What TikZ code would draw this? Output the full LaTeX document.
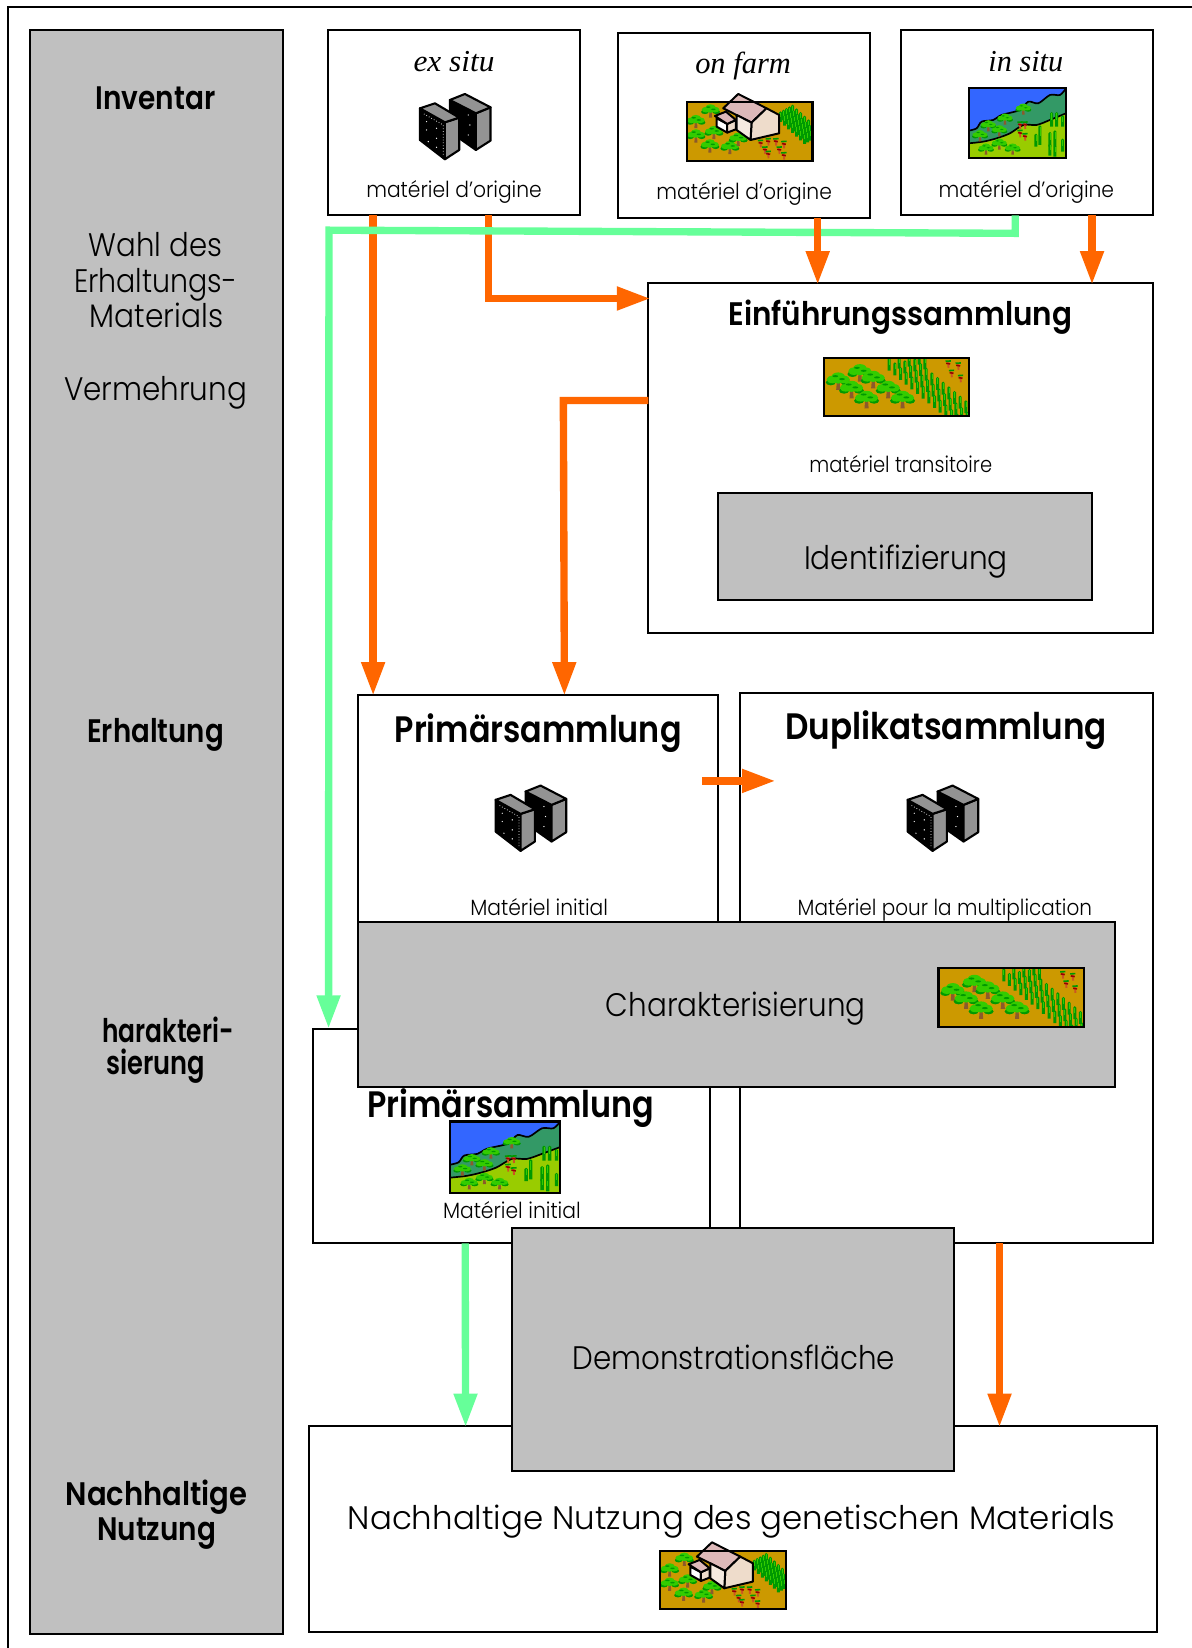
\documentclass[tikz,border=0pt]{standalone}
\usepackage{graphicx}
\usepackage{fontspec}
\setmainfont{Poppins}[UprightFont=* Light,BoldFont=* SemiBold]
\newfontfamily\timesf{Liberation Serif}
\usetikzlibrary{arrows.meta,calc}
\definecolor{gr}{HTML}{C0C0C0}
\definecolor{org}{HTML}{FF6600}
\definecolor{grn}{HTML}{66FF99}
\definecolor{gold}{HTML}{CC9900}
\definecolor{treeL}{HTML}{33CC00}
\definecolor{treeD}{HTML}{009900}
\definecolor{trunk}{HTML}{8B5A2B}
\definecolor{skyb}{HTML}{3366FF}
\definecolor{hill}{HTML}{339966}
\definecolor{meadow}{HTML}{99CC00}
\definecolor{roofc}{HTML}{DDB9B9}
\definecolor{wallc}{HTML}{EEDCCB}
\definecolor{plantc}{HTML}{CC5522}
\tikzset{
  box/.style={draw=black,line width=1.9pt,fill=white,anchor=north west,inner sep=0pt,outer sep=0pt},
  graybox/.style={box,fill=gr},
  oarrow/.style={draw=org,line width=7pt,-{Triangle[length=32pt,width=21pt]}},
  garrow/.style={draw=grn,line width=7pt,-{Triangle[length=32pt,width=21pt]}},
  lbl/.style={anchor=base,inner sep=0pt,outer sep=0pt,text=black},
  big/.style={lbl,font=\fontsize{31}{31}\selectfont},
  small/.style={lbl,font=\fontsize{21}{21}\selectfont},
  bolds/.style={lbl,font=\fontsize{31}{31}\selectfont\bfseries},
  boldb/.style={lbl,font=\fontsize{35}{35}\selectfont\bfseries},
  ital/.style={lbl,font=\fontsize{29}{29}\selectfont\timesf\itshape},
  edge/.style={draw=black,line width=1.9pt,line join=miter},
}
\newcommand\lab[6]{\node[#2] (#1) at (#3,#4) {\resizebox{#5pt}{\height}{#6}};}
% --- icon parts, drawn in the units of the enclosing scope
\newcommand\treeic[3]{\begin{scope}[shift={(#1,#2)},scale=#3]
  \fill[trunk] (-3,0) -- (3,0) -- (5,24) -- (-5,24) -- cycle;
  \fill[treeD] (-18,6) ellipse[x radius=12,y radius=7];
  \fill[treeD] (18,6) ellipse[x radius=12,y radius=7];
  \fill[treeL] (0,-8) ellipse[x radius=16,y radius=10];
  \fill[treeL] (-14,-1) ellipse[x radius=14,y radius=9];
  \fill[treeL] (14,-1) ellipse[x radius=14,y radius=9];
  \fill[treeL] (0,2) ellipse[x radius=10,y radius=7];
  \fill[treeD] (-7,-9) ellipse[x radius=7,y radius=2.5];
  \fill[treeD] (9,-2) ellipse[x radius=7,y radius=2.5];
\end{scope}}
\newcommand\stalk[3]{\fill[treeD] (#1-4.5,#2) -- (#1,#2-4) -- (#1+4.5,#2) -- (#1+4.5,#2+#3) -- (#1-4.5,#2+#3) -- cycle;
  \fill[treeL] (#1-1,#2) rectangle (#1+1.5,#2+#3*0.5);}
\newcommand\plantic[2]{\begin{scope}[shift={(#1,#2)}]
  \draw[line width=1.8pt,color=plantc] (0,0) -- (1,17);
  \draw[line width=1.5pt,color=treeD] (-8,-3) -- (8,-4);
  \draw[line width=1.5pt,color=red!60!black] (-6,3) -- (6,5);
\end{scope}}
\newcommand\towers[2]{\begin{scope}[shift={(#1,#2)},x=0.317pt,y=-0.317pt,line width=2pt,line join=round]
  \draw[fill=black] (150,90) -- (150,185) -- (228,240) -- (228,130) -- cycle;
  \draw[fill=gray!85] (228,130) -- (272,112) -- (272,212) -- (228,240) -- cycle;
  \draw[fill=gray!85] (150,90) -- (195,72) -- (272,112) -- (228,130) -- cycle;
  \draw[fill=black] (60,115) -- (60,210) -- (135,268) -- (135,157) -- cycle;
  \draw[fill=gray!85] (135,157) -- (178,143) -- (178,240) -- (135,268) -- cycle;
  \draw[fill=gray!85] (60,115) -- (105,100) -- (178,143) -- (135,157) -- cycle;
  \draw[white,line width=.7pt,dotted] (72,132) -- (130,165) -- (130,258);
  \foreach \a/\b in {80/155,110/175,80/180,110/205,85/215,110/232,205/135,210/165,205/195}{\fill[white] (\a,\b) circle[radius=2];}
\end{scope}}
\newcommand\farmic[2]{\begin{scope}[shift={(#1,#2)},x=0.317pt,y=-0.317pt]
  \fill[gold] (50,67) rectangle (428,242);
  \foreach \a/\b in {122/90,78/122,78/165,132/155,120/195,180/200,205/175}{\treeic{\a}{\b}{0.95}}
  \begin{scope}
  \clip (300,50) rectangle (430,242);
  \foreach \i in {0,...,6}{\foreach \j in {0,...,4}{
    \pgfmathsetmacro\xa{332+12*\i+9*\j}\pgfmathsetmacro\ya{98+11*\i-5*\j}
    \stalk{\xa}{\ya}{28}}}
  \end{scope}
  \foreach \a/\b in {272/185,295/180,318/180,342/188,285/205,328/205,295/218,342/222}{\plantic{\a}{\b}}
  \draw[line width=1.9pt,line join=round,fill=roofc] (205,42) -- (290,85) -- (245,128) -- (160,85) -- cycle;
  \draw[line width=1.9pt,line join=round,fill=wallc] (245,128) -- (290,85) -- (328,105) -- (328,160) -- (242,180) -- cycle;
  \draw[line width=1.9pt,line join=round,fill=wallc!60] (200,105) -- (245,128) -- (242,180) -- (200,150) -- cycle;
  \draw[line width=1.9pt,line join=round,fill=white] (140,115) -- (172,132) -- (172,158) -- (140,140) -- cycle;
  \draw[line width=1.9pt,line join=round,fill=wallc] (172,132) -- (198,120) -- (198,148) -- (172,158) -- cycle;
  \draw[line width=1.9pt,line join=round,fill=roofc] (135,108) -- (168,95) -- (198,120) -- (172,132) -- cycle;
  \draw[line width=2pt] (50,67) rectangle (428,242);
\end{scope}}
\newcommand\fieldic[2]{\begin{scope}[shift={(#1,#2)},x=0.317pt,y=-0.317pt]
  \fill[gold] (42,38) rectangle (478,213);
  \begin{scope}
  \clip (42,38) rectangle (478,213);
  \foreach \i in {0,...,13}{\foreach \j in {0,...,5}{
    \pgfmathsetmacro\xa{238+17*\i+30*\j}\pgfmathsetmacro\ya{42+14*\i-6*\j}
    \pgfmathtruncatemacro\ok{\ya>\xa-310 ? 1 : 0}
    \ifnum\ok=1 \stalk{\xa}{\ya}{35}\fi}}
  \end{scope}
  \foreach \a/\b in {85/105,150/80,190/100,125/130,235/130,170/160,278/160}{\treeic{\a}{\b}{1.25}}
  \foreach \a/\b in {415/52,445/58,425/80,452/95}{\plantic{\a}{\b}}
  \draw[line width=2pt] (42,38) rectangle (478,213);
\end{scope}}
\newcommand\wildic[4]{\begin{scope}[shift={(#1,#2)},x=#3pt,y=-#4pt]
  \fill[skyb] (27,25) rectangle (318,235);
  \fill[hill] plot[smooth] coordinates {(27,152) (50,145) (65,125) (100,120) (125,105) (180,90) (205,65) (235,70) (270,45) (300,45) (318,25)} -- (318,235) -- (27,235) -- cycle;
  \draw[line width=1.6pt] plot[smooth] coordinates {(27,152) (50,145) (65,125) (100,120) (125,105) (180,90) (205,65) (235,70) (270,45) (300,45) (318,25)};
  \fill[meadow] plot[smooth] coordinates {(27,190) (70,185) (110,175) (150,160) (190,135) (230,135) (270,120) (318,100)} -- (318,235) -- (27,235) -- cycle;
  \draw[line width=1.6pt] plot[smooth] coordinates {(27,190) (70,185) (110,175) (150,160) (190,135) (230,135) (270,120) (318,100)};
  \foreach \a/\b in {190/85,135/115,85/135,60/165,118/150,78/205,118/190,158/205}{\treeic{\a}{\b}{0.8}}
  \foreach \a/\b in {180/130,195/130,180/155,195/165}{\plantic{\a}{\b}}
  \foreach \a/\b/\h in {275/100/40,290/100/40,240/140/55,228/165/35,270/160/40,285/155/45,270/195/32,285/200/30,308/110/30,308/180/35}{\stalk{\a}{\b}{\h}}
  \draw[line width=2.2pt] (27,25) rectangle (318,235);
\end{scope}}
\begin{document}
\begin{tikzpicture}[x=1pt,y=-1pt]
\useasboundingbox (0,0) rectangle (1134,1568);
\fill[white] (0,0) rectangle (1134,1568);
\coordinate (frameA) at (7.5,1568);
\coordinate (frameB) at (7.5,6.7);
\coordinate (frameC) at (1134,6.7);
\draw[edge] (frameA) -- (frameB) -- (frameC);

\node[graybox,minimum width=240pt,minimum height=1526pt] (side) at (29,29) {};
\node[box,minimum width=240pt,minimum height=176pt] (exsitu) at (312,29) {};
\node[box,minimum width=240pt,minimum height=176pt] (onfarm) at (588,31) {};
\node[box,minimum width=240pt,minimum height=176pt] (insitu) at (857,29) {};
\node[box,minimum width=480pt,minimum height=333pt] (einf) at (617,269) {};
\node[graybox,minimum width=356pt,minimum height=102pt] (ident) at (683,469) {};
\node[box,minimum width=342pt,minimum height=240pt] (prim) at (341,661) {};
\node[box,minimum width=393pt,minimum height=524pt] (dup) at (704,659) {};
\node[box,minimum width=378.2pt,minimum height=204pt] (primb) at (297.6,979) {};
\node[box,minimum width=807pt,minimum height=196pt] (nutz) at (294,1357) {};
\node[graybox,minimum width=720pt,minimum height=157pt] (char) at (341,877) {};
\node[graybox,minimum width=421pt,minimum height=232pt] (demo) at (487,1168) {};

% left column
\lab{tA}{bolds}{148}{104}{114}{Inventar}
\lab{tB}{big}{148}{244}{127}{Wahl des}
\lab{tC}{big}{148}{278}{155}{Erhaltungs-}
\lab{tD}{big}{149}{312}{127}{Materials}
\lab{tE}{big}{148}{381}{174}{Vermehrung}
\lab{tF}{bolds}{148}{706}{130}{Erhaltung}
\lab{tG}{bolds}{160}{992}{125}{harakteri-}
\lab{tH}{bolds}{148}{1022}{94}{sierung}
\lab{tI}{bolds}{149}{1432}{173}{Nachhaltige}
\lab{tJ}{bolds}{149}{1466}{113}{Nutzung}
% source boxes
\lab{tK}{ital}{432}{68}{77}{ex situ}
\lab{tL}{ital}{707}{70}{91}{on farm}
\lab{tM}{ital}{976}{68}{71}{in situ}
\lab{tN}{small}{432}{188}{167}{matériel d'origine}
\lab{tO}{small}{708}{190}{167}{matériel d'origine}
\lab{tP}{small}{976.5}{188}{167}{matériel d'origine}
% main boxes
\lab{tQ}{bolds}{856.5}{310}{327}{Einführungssammlung}
\lab{tR}{small}{857}{450}{174}{matériel transitoire}
\lab{tS}{big}{862}{542}{194}{Identifizierung}
\lab{tT}{boldb}{512}{706}{273}{Primärsammlung}
\lab{tU}{boldb}{900}{704}{306}{Duplikatsammlung}
\lab{tV}{small}{513}{871}{131}{Matériel initial}
\lab{tW}{small}{899}{871}{280}{Matériel pour la multiplication}
\lab{tX}{big}{700}{967}{247}{Charakterisierung}
\lab{tY}{boldb}{486}{1063}{273}{Primärsammlung}
\lab{tZ}{small}{487}{1159}{131}{Matériel initial}
\lab{tAA}{big}{698}{1303}{307}{Demonstrationsfläche}
\lab{tAB}{big}{696}{1455}{730}{Nachhaltige Nutzung des genetischen Materials}

% icons
\towers{380.5}{66.6}
\towers{452.5}{724.6}
\towers{844.5}{724.6}
\farmic{637.4}{76.1}
\farmic{612.4}{1454.1}
\wildic{913.4}{76.1}{0.317}{0.317}
\wildic{418.3}{1058.9}{0.361}{0.324}
\fieldic{770.6}{328.2}
\fieldic{879.6}{909.2}

% connectors
\draw[oarrow] ($(exsitu.south west)+(43,0)$) -- ($(prim.north west)+(14,1)$);
\draw[oarrow] ($(exsitu.south west)+(153,0)$) -- ($(exsitu.south west)+(153,79)$) -- ($(einf.north west)+(2,15)$);
\draw[garrow] ($(insitu.south west)+(109,0)$) -- ($(insitu.south west)+(109,17)$) -- ($(exsitu.south west)+(1,14)$) -- ($(primb.north west)+(15,0)$);
\draw[oarrow] ($(onfarm.south west)+(190,0)$) -- ($(einf.north west)+(161,2)$);
\draw[oarrow] ($(insitu.south west)+(182,0)$) -- ($(einf.north west)+(422,2)$);
\draw[oarrow] ($(einf.north west)+(0,112)$) -- ($(einf.north west)+(-81,112)$) -- ($(prim.north west)+(196,1)$);
\coordinate (dupin) at ($(dup.north west)+(34,84)$);
\draw[oarrow] ($(dup.north west)+(-36,84)$) -- (dupin);
\draw[oarrow] ($(dup.south west)+(247,0)$) -- ($(nutz.north west)+(657,1)$);
\draw[garrow] ($(primb.south west)+(145,0)$) -- ($(nutz.north west)+(149,1)$);
\end{tikzpicture}
\end{document}
